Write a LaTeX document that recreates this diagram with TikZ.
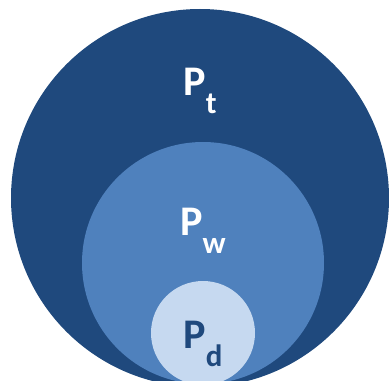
\documentclass[tikz,border=0pt]{standalone}
\usepackage{fontspec}
\setmainfont{Carlito}
\definecolor{outerblue}{HTML}{1F497D}
\definecolor{midblue}{HTML}{4F81BD}
\definecolor{lightblue}{HTML}{C6D9F0}
\newcommand{\lbl}[1]{\fontsize{30}{30}\selectfont\bfseries P\raisebox{-0.42em}{\fontsize{22}{22}\selectfont #1}}
\begin{document}
\begin{tikzpicture}[x=0.025cm,y=-0.025cm]
  \tikzset{
    set/.style={circle, inner sep=0pt, outer sep=0pt},
    setlabel/.style={inner sep=0pt, text=white}
  }
  \useasboundingbox (0,0) rectangle (389,381);
  \begin{scope}
    \clip (0,0) rectangle (389,381);
    \node[set, fill=outerblue, minimum size=378*0.025cm] (pt) at (200,198) {};
    \node[set, fill=midblue, minimum size=242*0.025cm] (pw) at (203,263) {};
    \node[set, fill=lightblue, minimum size=104*0.025cm] (pd) at (203,333) {};
  \end{scope}
  \node[setlabel] (lt) at (200,91) {\lbl{t}};
  \node[setlabel] (lw) at (203,231) {\lbl{w}};
  \node[setlabel, text=outerblue] (ld) at (203,344) {\lbl{d}};
\end{tikzpicture}
\end{document}
